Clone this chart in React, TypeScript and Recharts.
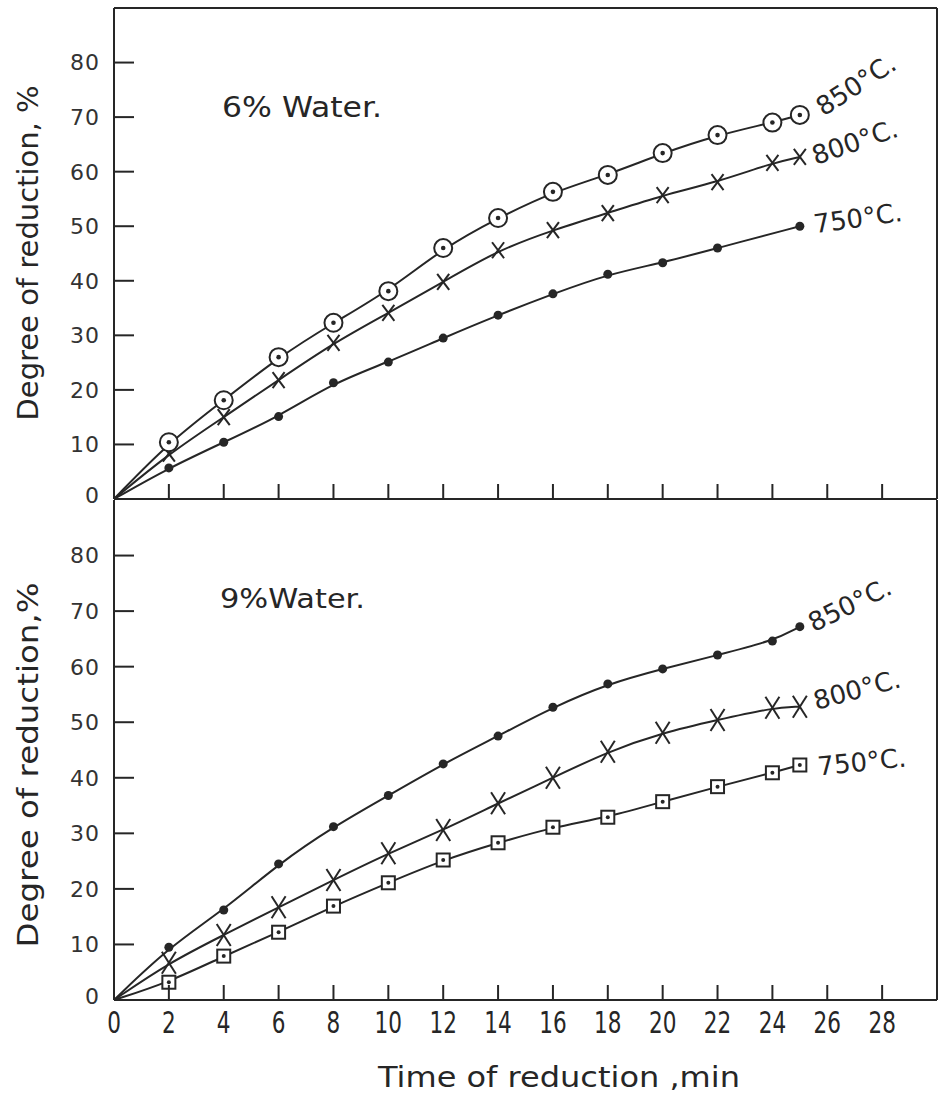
import React from "react";
import { LineChart, Line, XAxis, YAxis, LabelList, ReferenceLine } from "recharts";

const INK = "#262626";
const FONT = "'DejaVu Sans', sans-serif";

// time of reduction, min
const times = [0, 2, 4, 6, 8, 10, 12, 14, 16, 18, 20, 22, 24, 25];
const xTicks = [0, 2, 4, 6, 8, 10, 12, 14, 16, 18, 20, 22, 24, 26, 28];
const yTicks = [0, 10, 20, 30, 40, 50, 60, 70, 80];

// 6% water, degree of reduction %
const w6_850 = [0, 10.4, 18.1, 26.0, 32.3, 38.1, 46.0, 51.5, 56.3, 59.4, 63.4, 66.7, 69.0, 70.4];
const w6_800 = [0, 8.3, 15.0, 21.8, 28.6, 34.1, 39.8, 45.6, 49.3, 52.4, 55.7, 58.1, 61.6, 62.7];
const w6_750 = [0, 5.7, 10.4, 15.1, 21.3, 25.1, 29.5, 33.7, 37.6, 41.2, 43.3, 46.0, null, 50.0];

// 9% water
const w9_850 = [0, 9.5, 16.2, 24.5, 31.2, 36.8, 42.5, 47.5, 52.7, 56.9, 59.6, 62.1, 64.6, 67.2];
const w9_800 = [0, 6.7, 11.7, 16.7, 21.6, 26.4, 30.6, 35.4, 40.0, 44.7, 48.1, 50.4, 52.6, 52.8];
const w9_750 = [0, 3.2, 7.9, 12.2, 16.9, 21.1, 25.2, 28.3, 31.1, 32.9, 35.7, 38.4, 40.9, 42.3];

const top = times.map((t, i) => ({ t, a: w6_850[i], b: w6_800[i], c: w6_750[i] }));
const bottom = times.map((t, i) => ({ t, a: w9_850[i], b: w9_800[i], c: w9_750[i] }));
const LAST = times.length - 1;

// markers
const ringDot = (p: any) =>
  p.index === 0 || p.value == null ? <g key={p.index} /> : (
    <g key={p.index}>
      <circle cx={p.cx} cy={p.cy} r={9} fill="#fff" stroke={INK} strokeWidth={2} />
      <circle cx={p.cx} cy={p.cy} r={2.3} fill={INK} />
    </g>
  );

const crossDot = (w: number, h: number) => (p: any) =>
  p.index === 0 || p.value == null ? <g key={p.index} /> : (
    <g key={p.index} stroke={INK} strokeWidth={2}>
      <line x1={p.cx - w} y1={p.cy - h} x2={p.cx + w} y2={p.cy + h} />
      <line x1={p.cx + w} y1={p.cy - h} x2={p.cx - w} y2={p.cy + h} />
    </g>
  );

const fillDot = (p: any) =>
  p.index === 0 || p.value == null ? <g key={p.index} /> : (
    <circle key={p.index} cx={p.cx} cy={p.cy} r={4.5} fill={INK} />
  );

const squareDot = (p: any) =>
  p.index === 0 || p.value == null ? <g key={p.index} /> : (
    <g key={p.index}>
      <rect x={p.cx - 6.5} y={p.cy - 6.5} width={13} height={13} fill="#fff" stroke={INK} strokeWidth={2} />
      <circle cx={p.cx} cy={p.cy} r={2} fill={INK} />
    </g>
  );

const endLabel = (text: string, dx: number, dy: number, angle: number) => (props: any) => {
  if (props.index !== LAST) return <g />;
  const x = Number(props.x) + dx;
  const y = Number(props.y) + dy;
  return (
    <text
      transform={`translate(${x},${y}) rotate(${angle})`}
      textAnchor="middle"
      dominantBaseline="central"
      fontSize={26}
      fontFamily={FONT}
      fill={INK}
    >
      {text}
    </text>
  );
};

const YTick = ({ x, y, payload }: any) => (
  <g>
    {payload.value !== 0 && <line x1={x} x2={x + 20} y1={y} y2={y} stroke={INK} strokeWidth={2} />}
    <text x={x - 14} y={payload.value === 0 ? y - 4 : y} dy="0.36em" textAnchor="end" fontSize={22}
      letterSpacing={1} fontFamily={FONT} fill="#333">
      {payload.value}
    </text>
  </g>
);

const TopXTick = ({ x, y, payload }: any) =>
  payload.value === 0 ? <g /> : <line x1={x} x2={x} y1={y} y2={y - 15} stroke={INK} strokeWidth={2} />;

const BottomXTick = ({ x, y, payload }: any) => (
  <g>
    {payload.value !== 0 && <line x1={x} x2={x} y1={y} y2={y - 15} stroke={INK} strokeWidth={2} />}
    <text transform={`translate(${x},${y + 33}) scale(0.72,1)`} textAnchor="middle" fontSize={30} fontFamily={FONT} fill={INK}>
      {payload.value}
    </text>
  </g>
);

const axisLine = { stroke: INK, strokeWidth: 2 };

export default function App() {
  return (
    <div style={{ position: "absolute", left: 0, top: 0, width: 942, height: 1095, background: "#fff" }}>
      <div style={{ position: "absolute", left: 0, top: 500 }}>
        <LineChart width={942} height={595} data={bottom} margin={{ top: 0, right: 5, bottom: 0, left: 0 }}>
          <XAxis dataKey="t" type="number" domain={[0, 30]} ticks={xTicks} interval={0} height={95}
            tickSize={0} tickMargin={0} tickLine={false} axisLine={axisLine} tick={<BottomXTick />} />
          <YAxis type="number" domain={[0, 90]} ticks={yTicks} interval={0} width={114}
            tickSize={0} tickMargin={0} tickLine={false} axisLine={axisLine} tick={<YTick />} />
          <ReferenceLine x={30} stroke={INK} strokeWidth={2} />
          <Line dataKey="c" type="basis" stroke={INK} strokeWidth={2} dot={squareDot} isAnimationActive={false}>
            <LabelList dataKey="c" content={endLabel("750°C.", 62, -3, -6)} />
          </Line>
          <Line dataKey="b" type="basis" stroke={INK} strokeWidth={2} dot={crossDot(7, 11)} isAnimationActive={false}>
            <LabelList dataKey="b" content={endLabel("800°C.", 57, -17, -15)} />
          </Line>
          <Line dataKey="a" type="basis" stroke={INK} strokeWidth={2} dot={fillDot} isAnimationActive={false}>
            <LabelList dataKey="a" content={endLabel("850°C.", 50, -22, -26)} />
          </Line>
        </LineChart>
      </div>
      <div style={{ position: "absolute", left: 0, top: 0 }}>
        <LineChart width={942} height={520} data={top} margin={{ top: 8, right: 5, bottom: 0, left: 0 }}>
          <XAxis dataKey="t" type="number" domain={[0, 30]} ticks={xTicks} interval={0} height={21}
            tickSize={0} tickMargin={0} tickLine={false} axisLine={axisLine} tick={<TopXTick />} />
          <YAxis type="number" domain={[0, 90]} ticks={yTicks} interval={0} width={114}
            tickSize={0} tickMargin={0} tickLine={false} axisLine={axisLine} tick={<YTick />} />
          <ReferenceLine y={90} stroke={INK} strokeWidth={2} />
          <ReferenceLine x={30} stroke={INK} strokeWidth={2} />
          <Line dataKey="c" type="basis" stroke={INK} strokeWidth={2} dot={fillDot} connectNulls isAnimationActive={false}>
            <LabelList dataKey="c" content={endLabel("750°C.", 58, -8, -8)} />
          </Line>
          <Line dataKey="b" type="basis" stroke={INK} strokeWidth={2} dot={crossDot(6, 8)} isAnimationActive={false}>
            <LabelList dataKey="b" content={endLabel("800°C.", 55, -15, -19)} />
          </Line>
          <Line dataKey="a" type="basis" stroke={INK} strokeWidth={2} dot={ringDot} isAnimationActive={false}>
            <LabelList dataKey="a" content={endLabel("850°C.", 56, -30, -33)} />
          </Line>
        </LineChart>
      </div>
      <svg width={942} height={1095} style={{ position: "absolute", left: 0, top: 0, pointerEvents: "none" }}>
        <g fontFamily={FONT} fill={INK}>
          <text x={222} y={117} fontSize={28} textLength={160} lengthAdjust="spacingAndGlyphs">6% Water.</text>
          <text x={220} y={608} fontSize={27} textLength={145} lengthAdjust="spacingAndGlyphs">9%Water.</text>
          <text transform="translate(38,253) rotate(-90)" textAnchor="middle" fontSize={28}
            textLength={335} lengthAdjust="spacingAndGlyphs">Degree of reduction, %</text>
          <text transform="translate(38,765) rotate(-90)" textAnchor="middle" fontSize={28}
            textLength={365} lengthAdjust="spacingAndGlyphs">Degree of reduction,%</text>
          <text x={559} y={1087} textAnchor="middle" fontSize={28}
            textLength={362} lengthAdjust="spacingAndGlyphs">Time of reduction ,min</text>
        </g>
      </svg>
    </div>
  );
}
